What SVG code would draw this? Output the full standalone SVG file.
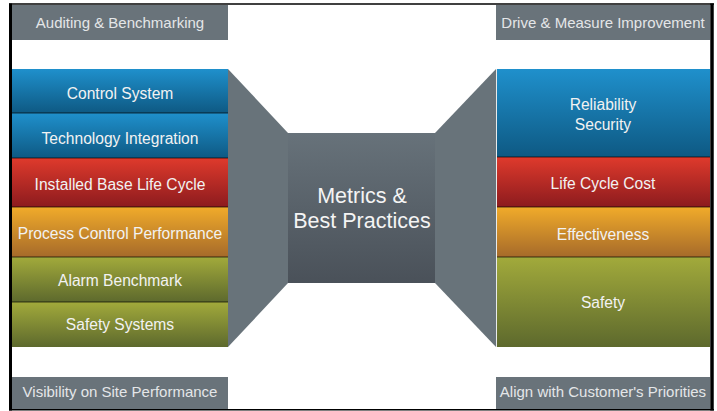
<svg xmlns="http://www.w3.org/2000/svg" width="717" height="411" viewBox="0 0 717 411">
<style>
.t{font-family:"Liberation Sans",Arial,Helvetica,sans-serif;fill:#f2f2f2;text-anchor:middle}
.r{font-size:15.6px}
.h{font-size:15px;fill:#e4e6e8}
.c{font-size:21.5px;fill:#f4f4f4}
.hd{fill:#69737a}
.div{stroke:#000;stroke-opacity:0.45;stroke-width:1.5}
</style>
<defs>
<linearGradient id="gb" x1="0" y1="0" x2="0" y2="1"><stop offset="0" stop-color="#1f90cc"/><stop offset="1" stop-color="#0e5983"/></linearGradient>
<linearGradient id="gr" x1="0" y1="0" x2="0" y2="1"><stop offset="0" stop-color="#df3a2c"/><stop offset="1" stop-color="#8c1b1e"/></linearGradient>
<linearGradient id="go" x1="0" y1="0" x2="0" y2="1"><stop offset="0" stop-color="#f1ab2a"/><stop offset="1" stop-color="#a66a2a"/></linearGradient>
<linearGradient id="gg" x1="0" y1="0" x2="0" y2="1"><stop offset="0" stop-color="#a2aa3b"/><stop offset="1" stop-color="#5d692d"/></linearGradient>
<linearGradient id="gc" x1="0" y1="0" x2="0" y2="1"><stop offset="0" stop-color="#67727a"/><stop offset="1" stop-color="#4a5159"/></linearGradient>
</defs>
<rect width="717" height="411" fill="#fff"/>
<!-- frame -->
<g id="frame" stroke="#000" fill="none">
<line x1="9" y1="4" x2="714" y2="4" stroke-width="1.5"/>
<line x1="10.5" y1="3.5" x2="10.5" y2="410.5" stroke-width="3"/>
<line x1="712" y1="3.5" x2="712" y2="410.5" stroke-width="3.5"/>
<line x1="9" y1="409.8" x2="714" y2="409.8" stroke-width="1.5"/>
</g>
<!-- funnels -->
<g id="connectors">
<polygon points="228,69 288,133 288,283 228,347" fill="#68737a"/>
<polygon points="496,69 435,133 435,283 496,347" fill="#68737a"/>
<line x1="496.5" y1="69" x2="496.5" y2="347" stroke="#e8eaea" stroke-width="1"/>
</g>
<g id="center">
<rect x="288" y="133" width="147" height="150" fill="url(#gc)"/>
<text class="t c" x="362" y="203">Metrics &amp;</text>
<text class="t c" x="362" y="228">Best Practices</text>
</g>
<!-- headers -->
<g id="h-audit"><rect class="hd" x="12" y="5" width="216" height="35"/><text class="t h" x="120" y="28">Auditing &amp; Benchmarking</text></g>
<g id="h-drive"><rect class="hd" x="496" y="5" width="214" height="35"/><text class="t h" x="603" y="28">Drive &amp; Measure Improvement</text></g>
<g id="h-visibility"><rect class="hd" x="12" y="377" width="216" height="32"/><text class="t h" x="120" y="397">Visibility on Site Performance</text></g>
<g id="h-align"><rect class="hd" x="496" y="377" width="214" height="32"/><text class="t h" x="603" y="397">Align with Customer's Priorities</text></g>
<!-- left stack -->
<g id="l-control"><rect x="12" y="69" width="216" height="44" fill="url(#gb)"/><text class="t r" x="120" y="99">Control System</text></g>
<g id="l-tech"><rect x="12" y="113" width="216" height="45" fill="url(#gb)"/><text class="t r" x="120" y="144">Technology Integration</text></g>
<g id="l-installed"><rect x="12" y="158" width="216" height="49" fill="url(#gr)"/><text class="t r" x="120" y="190">Installed Base Life Cycle</text></g>
<g id="l-process"><rect x="12" y="207" width="216" height="50" fill="url(#go)"/><text class="t r" x="120" y="239">Process Control Performance</text></g>
<g id="l-alarm"><rect x="12" y="257" width="216" height="45" fill="url(#gg)"/><text class="t r" x="120" y="286">Alarm Benchmark</text></g>
<g id="l-safety"><rect x="12" y="302" width="216" height="45" fill="url(#gg)"/><text class="t r" x="120" y="330">Safety Systems</text></g>
<g id="l-dividers">
<line class="div" x1="12" y1="113" x2="228" y2="113"/>
<line class="div" x1="12" y1="158" x2="228" y2="158"/>
<line class="div" x1="12" y1="207" x2="228" y2="207"/>
<line class="div" x1="12" y1="257" x2="228" y2="257"/>
<line class="div" x1="12" y1="302" x2="228" y2="302"/>
</g>
<!-- right stack -->
<g id="r-reliability"><rect x="497" y="69" width="213" height="88" fill="url(#gb)"/><text class="t r" x="603" y="110">Reliability</text><text class="t r" x="603" y="130">Security</text></g>
<g id="r-lcc"><rect x="497" y="157" width="213" height="50" fill="url(#gr)"/><text class="t r" x="603" y="189">Life Cycle Cost</text></g>
<g id="r-effect"><rect x="497" y="207" width="213" height="50" fill="url(#go)"/><text class="t r" x="603" y="240">Effectiveness</text></g>
<g id="r-safety"><rect x="497" y="257" width="213" height="90" fill="url(#gg)"/><text class="t r" x="603" y="308">Safety</text></g>
<g id="r-dividers">
<line class="div" x1="497" y1="157" x2="710" y2="157"/>
<line class="div" x1="497" y1="207" x2="710" y2="207"/>
<line class="div" x1="497" y1="257" x2="710" y2="257"/>
</g>
</svg>
